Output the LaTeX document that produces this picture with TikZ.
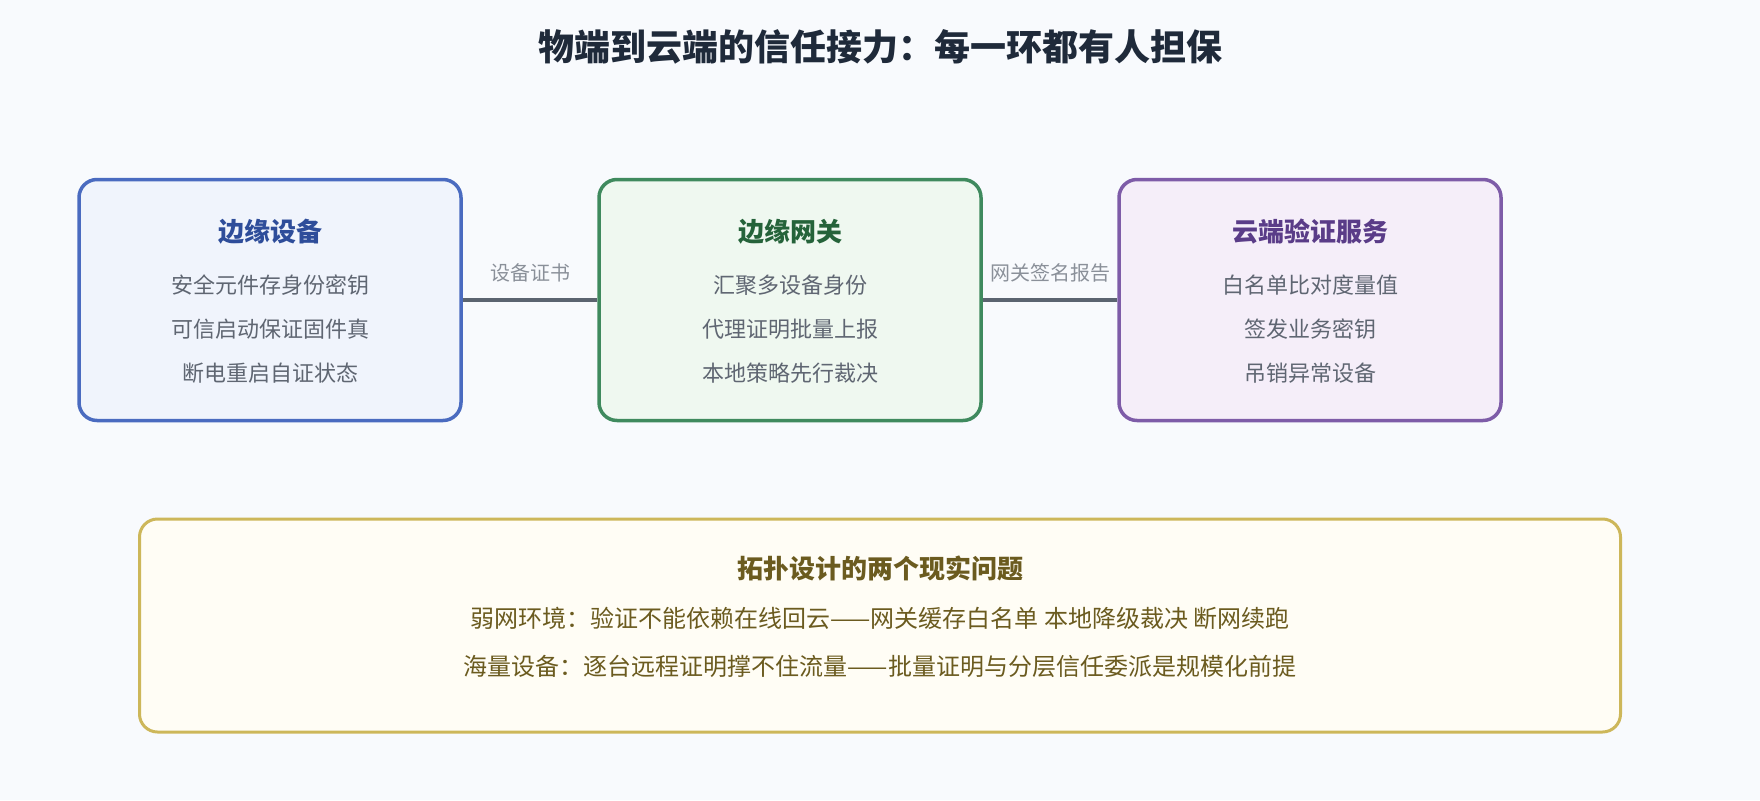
\documentclass[tikz,border=0pt]{standalone}
\usepackage{fontspec}
\setmainfont{Noto Sans CJK SC}
\usetikzlibrary{positioning}

\begin{document}
\begin{tikzpicture}[x=1pt,y=-1pt,
  box/.style={draw,line width=3.5pt,rounded corners=18pt,minimum width=382pt,minimum height=241pt,inner sep=0pt},
  boxtitle/.style={font=\fontsize{26}{30}\selectfont\bfseries},
  boxline/.style={font=\fontsize{22}{26}\selectfont,text=iot_body},
  link/.style={line width=4pt,draw=iot_link},
  linklabel/.style={font=\fontsize{20}{24}\selectfont,text=iot_label}]
% ------------------------------------------------ theme colors
\definecolor{iot_bg}{RGB}{248,250,253}      %#F8FAFD
\definecolor{iot_head}{RGB}{31,42,58}       %#1F2A3A
\definecolor{iot_body}{RGB}{95,102,114}     %#5F6672
\definecolor{iot_link}{RGB}{91,100,112}     %#5B6470
\definecolor{iot_label}{RGB}{138,144,153}   %#8A9099
\definecolor{dev_line}{RGB}{74,107,192}     %#4A6BC0
\definecolor{dev_fill}{RGB}{240,244,252}    %#F0F4FC
\definecolor{dev_text}{RGB}{46,77,154}      %#2E4D9A
\definecolor{gw_line}{RGB}{63,138,94}       %#3F8A5E
\definecolor{gw_fill}{RGB}{239,248,240}     %#EFF8F0
\definecolor{gw_text}{RGB}{37,99,58}        %#25633A
\definecolor{cl_line}{RGB}{126,92,168}      %#7E5CA8
\definecolor{cl_fill}{RGB}{245,238,249}     %#F5EEF9
\definecolor{cl_text}{RGB}{90,60,136}       %#5A3C88
\definecolor{nt_line}{RGB}{205,183,90}      %#CDB75A
\definecolor{nt_fill}{RGB}{255,253,245}     %#FFFDF5
\definecolor{nt_text}{RGB}{107,91,31}       %#6B5B1F

\useasboundingbox (0,0) rectangle (1760,800);
\fill[iot_bg] (0,0) rectangle (1760,800);

\node[font=\fontsize{36}{42}\selectfont\bfseries,text=iot_head] (title) at (880,47) {物端到云端的信任接力：每一环都有人担保};

% ------------------------------------------------ three stages
\node[box,draw=dev_line,fill=dev_fill] (dev) at (270,300) {};
\node[box,draw=gw_line,fill=gw_fill]   (gw)  at (790,300) {};
\node[box,draw=cl_line,fill=cl_fill]   (cl)  at (1310,300) {};

\node[boxtitle,text=dev_text] (devhead) at (270,232) {边缘设备};
\node[boxline] (dev1) at (270,285) {安全元件存身份密钥};
\node[boxline] (dev2) at (270,329) {可信启动保证固件真};
\node[boxline] (dev3) at (270,373) {断电重启自证状态};

\node[boxtitle,text=gw_text] (gwhead) at (790,232) {边缘网关};
\node[boxline] (gw1) at (790,285) {汇聚多设备身份};
\node[boxline] (gw2) at (790,329) {代理证明批量上报};
\node[boxline] (gw3) at (790,373) {本地策略先行裁决};

\node[boxtitle,text=cl_text] (clhead) at (1310,232) {云端验证服务};
\node[boxline] (cl1) at (1310,285) {白名单比对度量值};
\node[boxline] (cl2) at (1310,329) {签发业务密钥};
\node[boxline] (cl3) at (1310,373) {吊销异常设备};

\draw[link] (dev) -- (gw) node[linklabel,midway,yshift=27pt] {设备证书};
\draw[link] (gw) -- (cl) node[linklabel,midway,yshift=27pt] {网关签名报告};

% ------------------------------------------------ note box
\node[draw=nt_line,fill=nt_fill,line width=3pt,rounded corners=18pt,minimum width=1481pt,minimum height=213pt] (note) at (880,625.5) {};
\node[boxtitle,text=nt_text] (nothead) at (880,568) {拓扑设计的两个现实问题};
\node[font=\fontsize{24}{28}\selectfont,text=nt_text] (note1) at (880,618) {弱网环境：验证不能依赖在线回云——网关缓存白名单 本地降级裁决 断网续跑};
\node[font=\fontsize{24}{28}\selectfont,text=nt_text] (note2) at (880,666) {海量设备：逐台远程证明撑不住流量——批量证明与分层信任委派是规模化前提};

\end{tikzpicture}
\end{document}
